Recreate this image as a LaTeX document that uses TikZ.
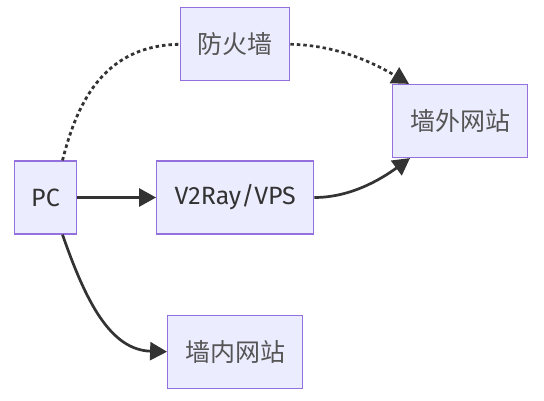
\documentclass[tikz,border=0pt]{standalone}
\usepackage{fontspec}
\setmainfont{Fira Sans}
\newfontfamily\cjk{Noto Sans CJK SC}
\usepackage{tikz}
\usetikzlibrary{positioning, arrows.meta, calc}
\definecolor{nodefill}{HTML}{ECECFF}
\definecolor{nodeline}{HTML}{9370DB}
\definecolor{edgecol}{HTML}{333333}
\definecolor{cjktext}{HTML}{555555}
\tikzset{
  box/.style={rectangle, draw=nodeline, fill=nodefill, line width=1.2pt, minimum height=73pt, inner xsep=4pt, text=edgecol, font=\fontsize{25}{29}\selectfont},
  cjkbox/.style={box, text=cjktext, font=\fontsize{25}{29}\selectfont\cjk},
  arrow/.style={line width=2.7pt, draw=edgecol, -{Triangle[length=17pt,width=18pt]}},
  dots/.style={line width=2.8pt, draw=edgecol, dash pattern=on 3.5pt off 3pt}
}

\begin{document}
\begin{tikzpicture}[x=1pt, y=1pt, node distance=79pt]
            \useasboundingbox (0,0) rectangle (544,400);

            % --- Nodos ---
            \node (pc) [box, minimum width=62pt] at (45.5,202.5) {PC};
            \node (vps) [box, right=79pt of pc, minimum width=157pt] {V2Ray/VPS};
            \node (fw) [cjkbox, above=79pt of vps, minimum width=109pt] {防火墙};
            \node (out) [cjkbox, minimum width=135pt] at (460,279) {墙外网站};
            \node (inner) [cjkbox, below=80pt of vps, minimum width=135pt] {墙内网站};

            % --- Conexiones ---
            \draw [dots] ([xshift=17pt]pc.north) .. controls +(13,51) and (100,355) .. (fw.west);
            \draw [dots, arrow] (fw.east) .. controls (340,355) and (379,334) .. ([xshift=-51pt]out.north);
            \draw [arrow] (pc.east) -- (vps.west);
            \draw [arrow] (vps.east) .. controls (350,202.5) and (380,220) .. ([xshift=-50pt]out.south);
            \draw [arrow] ([xshift=17pt]pc.south) .. controls +(23,-66) and (110,50) .. (inner.west);
\end{tikzpicture}
\end{document}
